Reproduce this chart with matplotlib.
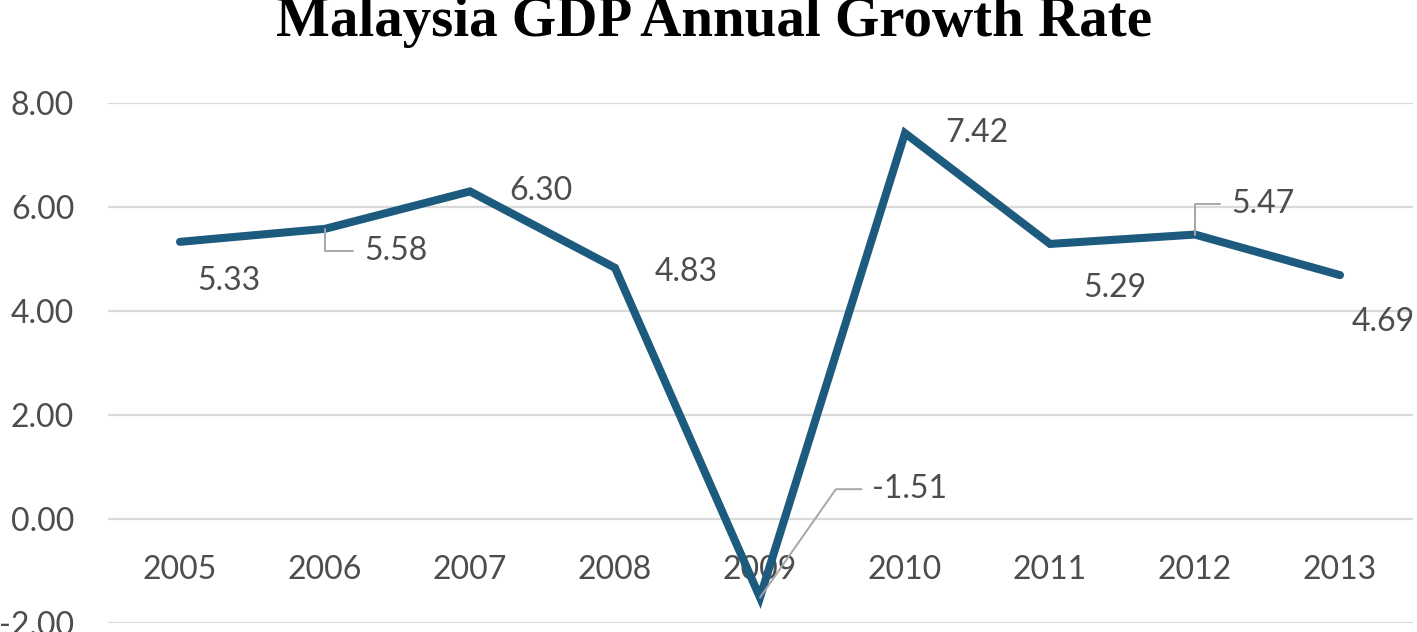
import matplotlib
matplotlib.use("Agg")
import matplotlib.pyplot as plt

# values
years = ["2005", "2006", "2007", "2008", "2009", "2010", "2011", "2012", "2013"]
growth = [5.33, 5.58, 6.30, 4.83, -1.51, 7.42, 5.29, 5.47, 4.69]
y_ticks = [-2, 0, 2, 4, 6, 8]

# label offsets in points from each point (Excel-style placement)
label_offsets = [(35, -28), (51, -16), (51, 0), (51, -3), (108, 78),
                 (52, 0), (47, -32), (49, 22), (31, -34)]
# leader lines: None or angleB of the connector
leaders = [None, 90, None, None, 55, None, None, 90, None]

LINE_COLOR = "#1d5b7e"
TEXT_COLOR = "#4d4d4d"
GRID_COLOR = "#d9d9d9"
FONT = ["Lato", "DejaVu Sans"]

fig = plt.figure(figsize=(14.17, 6.32), dpi=100)
ax = fig.add_axes([107.5 / 1417, 9 / 632, 1305 / 1417, 520 / 632])

xs = list(range(len(years)))
ax.plot(xs, growth, color=LINE_COLOR, lw=5.8, solid_joinstyle="miter",
        solid_capstyle="round", zorder=3)

ax.set_xlim(-0.5, len(years) - 0.5)
ax.set_ylim(-2, 8)
ax.set_yticks(y_ticks)
ax.set_yticklabels([f"{v:.2f}" for v in y_ticks], family=FONT, fontsize=23,
                   color=TEXT_COLOR)
ax.set_xticks(xs)
ax.set_xticklabels(years, family=FONT, fontsize=23, color=TEXT_COLOR)
ax.tick_params(axis="y", length=0, pad=24)
ax.tick_params(axis="x", length=0, pad=-49)
for lbl in ax.get_xticklabels():
    lbl.set_verticalalignment("top")
ax.grid(axis="y", color=GRID_COLOR, lw=1.6)
ax.set_axisbelow(True)
for sp in ax.spines.values():
    sp.set_visible(False)

for x, v, off, ang in zip(xs, growth, label_offsets, leaders):
    arrow = None
    if ang is not None:
        arrow = dict(arrowstyle="-", color="#a6a6a6", lw=1.4,
                     connectionstyle=f"angle,angleA=0,angleB={ang},rad=0",
                     relpos=(0, 0.5), shrinkA=6, shrinkB=0)
    ax.annotate(f"{v:.2f}", xy=(x, v), xytext=off, textcoords="offset points",
                ha="center", va="center", family=FONT, fontsize=23,
                color=TEXT_COLOR, arrowprops=arrow, zorder=4)

fig.text(0.504, 596 / 632, "Malaysia GDP Annual Growth Rate",
         family=["Liberation Serif", "DejaVu Serif"], fontweight="bold",
         fontsize=41, ha="center", va="baseline", color="black")

fig.savefig("out.png", dpi=100)
